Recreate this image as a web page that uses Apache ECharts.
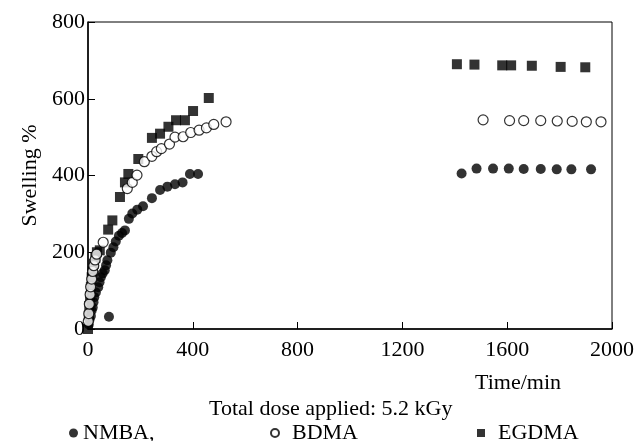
<!DOCTYPE html>
<html>
<head>
<meta charset="utf-8">
<script src="https://cdn.jsdelivr.net/npm/echarts@6/dist/echarts.min.js"></script>
<style>
  html, body { margin: 0; padding: 0; background: #fff; }
  #chart { width: 637px; height: 441px; }
</style>
</head>
<body>
<div id="chart"></div>
<script>
// values (time in min, swelling in %)
var nmbaTime = [3, 6, 11, 14, 18, 21, 24, 30, 39, 44, 49, 56, 64, 69, 74, 80, 87, 97, 106, 118, 130, 141, 156, 169, 188, 210, 244, 275, 303, 332, 361, 389, 420,
  1426, 1483, 1546, 1606, 1663, 1728, 1789, 1845, 1920];
var nmbaSwell = [12, 25, 34, 48, 56, 70, 83, 95, 109, 122, 135, 145, 153, 166, 179, 32, 199, 213, 228, 243, 250, 257, 287, 301, 311, 320, 341, 362, 371, 377, 382, 404, 404,
  405, 418, 418, 418, 417, 417, 416, 416, 416];

var bdmaTime = [1, 3, 5, 8, 10, 14, 18, 22, 27, 33, 58, 150, 169, 187, 215, 244, 262, 280, 311, 332, 363, 392, 424, 452, 480, 527,
  1508, 1609, 1663, 1728, 1791, 1848, 1902, 1958];
var bdmaSwell = [20, 40, 65, 90, 110, 130, 150, 165, 180, 195, 226, 366, 382, 401, 436, 450, 462, 470, 482, 500, 501, 512, 518, 524, 533, 540,
  545, 543, 543, 543, 542, 541, 540, 540];

var egdmaTime = [0, 3, 5, 8, 11, 14, 18, 22, 28, 34, 45, 77, 93, 122, 141, 154, 192, 244, 275, 307, 336, 370, 401, 461,
  1408, 1475, 1581, 1615, 1694, 1804, 1898];
var egdmaSwell = [0, 35, 60, 85, 110, 135, 150, 170, 185, 200, 205, 259, 283, 344, 382, 404, 443, 498, 509, 527, 544, 544, 568, 602,
  690, 689, 687, 687, 686, 683, 682];

var xTicks = [0, 400, 800, 1200, 1600, 2000];
var yTicks = [0, 200, 400, 600, 800];

function pairs(xs, ys) {
  return xs.map(function (x, i) { return [x, ys[i]]; });
}

var font = 'Liberation Serif';
var chart = echarts.init(document.getElementById('chart'));

chart.setOption({
  animation: false,
  textStyle: { fontFamily: font, color: '#000' },
  grid: {
    left: 88,
    right: 19,
    top: 22,
    bottom: 112,
    show: true,
    borderColor: '#000',
    borderWidth: 1
  },
  xAxis: {
    type: 'value',
    min: xTicks[0],
    max: xTicks[xTicks.length - 1],
    interval: 400,
    axisLine: { lineStyle: { color: '#000', width: 1.5 } },
    axisTick: { inside: true, length: 7, lineStyle: { color: '#000' } },
    axisLabel: {
      color: '#000', fontFamily: font, fontSize: 22, margin: 10,
      formatter: function (v) { return String(v); }
    },
    splitLine: { show: false }
  },
  yAxis: {
    type: 'value',
    min: yTicks[0],
    max: yTicks[yTicks.length - 1],
    interval: 200,
    name: 'Swelling %',
    nameLocation: 'middle',
    nameGap: 44,
    nameTextStyle: { color: '#000', fontFamily: font, fontSize: 22 },
    axisLine: { lineStyle: { color: '#000', width: 1.5 } },
    axisTick: { inside: true, length: 7, lineStyle: { color: '#000' } },
    axisLabel: {
      color: '#000', fontFamily: font, fontSize: 22, margin: 3,
      formatter: function (v) { return String(v); }
    },
    splitLine: { show: false }
  },
  legend: [
    {
      data: ['NMBA'], left: 69, top: 422, padding: 0,
      itemWidth: 9, itemHeight: 9,
      formatter: function (n) { return n + ','; },
      textStyle: { fontFamily: font, fontSize: 22, color: '#000' }
    },
    {
      data: ['BDMA'], left: 270, top: 422, padding: 0,
      itemWidth: 8, itemHeight: 8,
      textStyle: { fontFamily: font, fontSize: 22, color: '#000', padding: [0, 0, 0, 8] }
    },
    {
      data: ['EGDMA'], left: 477, top: 422, padding: 0,
      itemWidth: 8, itemHeight: 8,
      textStyle: { fontFamily: font, fontSize: 22, color: '#000', padding: [0, 0, 0, 8] }
    }
  ],
  graphic: [
    {
      type: 'text', left: 475, top: 372,
      style: { text: 'Time/min', font: '22px "Liberation Serif"', fill: '#000' }
    },
    {
      type: 'text', left: 209, top: 398,
      style: { text: 'Total dose applied: 5.2 kGy', font: '22px "Liberation Serif"', fill: '#000' }
    }
  ],
  series: [
    {
      name: 'NMBA',
      type: 'scatter',
      symbol: 'circle',
      symbolSize: 10,
      itemStyle: { color: '#000' },
      data: pairs(nmbaTime, nmbaSwell)
    },
    {
      name: 'EGDMA',
      type: 'scatter',
      symbol: 'rect',
      symbolSize: 10,
      itemStyle: { color: '#000' },
      data: pairs(egdmaTime, egdmaSwell)
    },
    {
      name: 'BDMA',
      type: 'scatter',
      symbol: 'circle',
      symbolSize: 10,
      itemStyle: { color: '#fff', borderColor: '#000', borderWidth: 1.2 },
      data: pairs(bdmaTime, bdmaSwell)
    }
  ]
});
</script>
</body>
</html>
